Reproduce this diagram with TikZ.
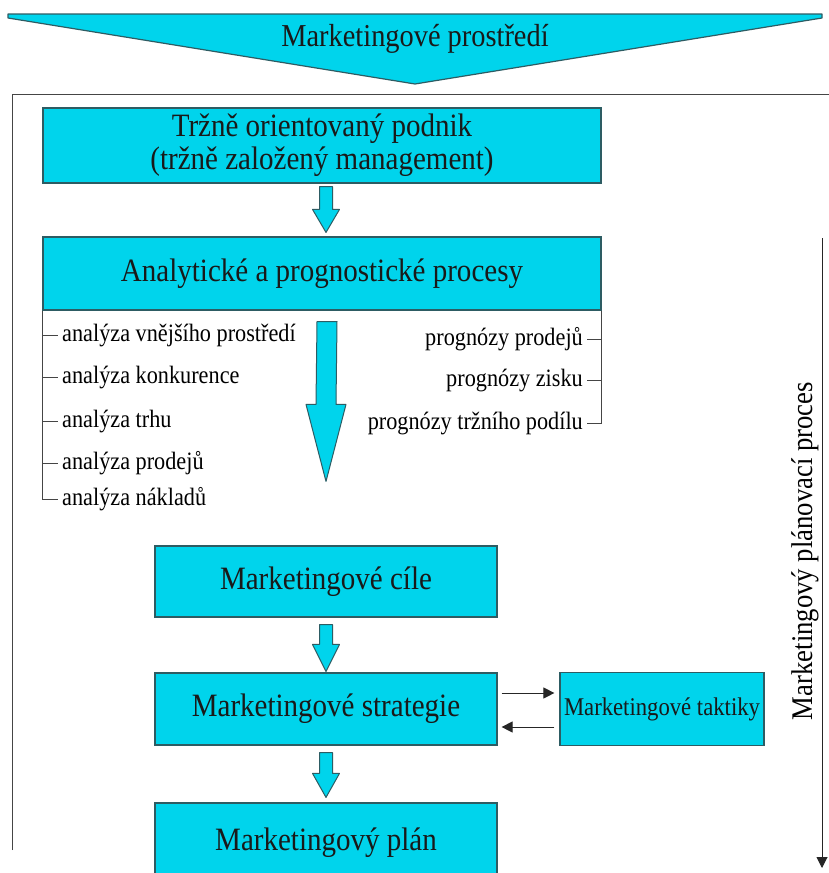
\documentclass[tikz,border=0pt]{standalone}
\usepackage{fontspec}
\setmainfont[FakeStretch=0.89]{Liberation Serif}
\usetikzlibrary{calc,arrows.meta}
\definecolor{boxcyan}{HTML}{00D4EC}
\definecolor{boxedge}{HTML}{2D5C63}
\definecolor{linegray}{HTML}{454545}
\tikzset{
  box/.style={draw=boxedge,fill=boxcyan,line width=1.2pt,inner sep=0pt,align=center,text=black!90},
  blockarr/.style={draw=boxedge,fill=boxcyan,line width=1pt,line join=round},
  item/.style={inner sep=4pt,font=\fontsize{25}{28}\selectfont},
  bracket/.style={draw=linegray,line width=1pt},
  flow/.style={draw=black!85,line width=1pt,-{Triangle[length=11pt,width=11pt]}},
}
\newcommand\blockarrow[5]{%
  \draw[blockarr] ($(#1)+(-#3,0)$) -- ($(#1)+(#3,0)$) -- ($(#2)+(#3,-#5)$) -- ($(#2)+(#4,-#5)$)
    -- (#2) -- ($(#2)+(-#4,-#5)$) -- ($(#2)+(-#3,-#5)$) -- cycle;}
\begin{document}
\begin{tikzpicture}[x=1pt,y=-1pt]
\useasboundingbox (0,0) rectangle (829,873);
\fill[white] (0,0) rectangle (829,873);

\draw[boxedge,fill=boxcyan,line width=1.2pt,line join=round] (8,14) -- (822,14) -- (822,18) -- (415,84) -- (8,18) -- cycle;
\node[font=\fontsize{31.9}{34}\selectfont,text=black!90] (env) at (415,39) {Marketingové prostředí};
\draw[linegray,line width=1pt] (12,850) -- (12,94) -- (829,94);

\node[box,minimum width=558pt,minimum height=75pt,font=\fontsize{32.6}{33}\selectfont] (tp) at (322,145.5) {Tržně orientovaný podnik\\(tržně založený management)};
\node[box,minimum width=558pt,minimum height=73pt,font=\fontsize{32.6}{34}\selectfont] (anl) at (322,273.5) {Analytické a prognostické procesy};
\node[box,minimum width=342pt,minimum height=71pt,font=\fontsize{32.6}{34}\selectfont] (goal) at (326,581.5) {Marketingové cíle};
\node[box,minimum width=342pt,minimum height=72pt,font=\fontsize{32.6}{34}\selectfont] (strat) at (326,709) {Marketingové strategie};
\node[box,minimum width=204pt,minimum height=73pt,font=\fontsize{25.5}{28}\selectfont] (takt) at (662,709) {Marketingové taktiky};
\node[box,minimum width=342pt,minimum height=80pt,font=\fontsize{32.6}{34}\selectfont] (plan) at (326,843) {Marketingový plán};

\node[item,anchor=west] (a1) at (58,335) {analýza vnějšího prostředí};
\node[item,anchor=west] (a2) at (58,377) {analýza konkurence};
\node[item,anchor=west] (a3) at (58,421) {analýza trhu};
\node[item,anchor=west] (a4) at (58,463) {analýza prodejů};
\node[item,anchor=west] (a5) at (58,499) {analýza nákladů};
\draw[bracket] (anl.south west) |- (a5.west);
\foreach \i in {1,...,4} \draw[bracket] (anl.south west |- a\i.west) -- (a\i.west);

\node[item,anchor=east] (p1) at (587,339) {prognózy prodejů};
\node[item,anchor=east] (p2) at (587,380) {prognózy zisku};
\node[item,anchor=east] (p3) at (587,423) {prognózy tržního podílu};
\draw[bracket] (anl.south east) |- (p3.east);
\foreach \i in {1,2} \draw[bracket] (anl.south east |- p\i.east) -- (p\i.east);

\coordinate (s1) at ($(tp.south)+(4,3)$);
\coordinate (e1) at ($(anl.north)+(4,-4)$);
\blockarrow{s1}{e1}{6.5}{13.5}{23}
\coordinate (s2) at ($(anl.south)+(5,11)$);
\coordinate (e2) at ($(goal.north)+(0,-64)$);
\blockarrow{s2}{e2}{10}{20}{77}
\coordinate (s3) at ($(goal.south)+(0,7)$);
\coordinate (e3) at ($(strat.north)+(0,-1)$);
\blockarrow{s3}{e3}{6.5}{13.5}{27}
\coordinate (s4) at ($(strat.south)+(0,7)$);
\coordinate (e4) at ($(plan.north)+(0,-5)$);
\blockarrow{s4}{e4}{6.5}{13.5}{24}

\draw[flow] ($(strat.east)+(4,-16)$) -- ($(takt.west |- strat.east)+(-5,-16)$);
\draw[flow] ($(takt.west |- strat.east)+(-5,18)$) -- ($(strat.east)+(4,18)$);

\coordinate (ptop) at (822,238);
\coordinate (pbot) at (822,868);
\draw[flow] (ptop) -- (pbot);
\node[rotate=90,font=\fontsize{30}{32}\selectfont] (proc) at (805,551) {Marketingový plánovací proces};
\end{tikzpicture}
\end{document}
